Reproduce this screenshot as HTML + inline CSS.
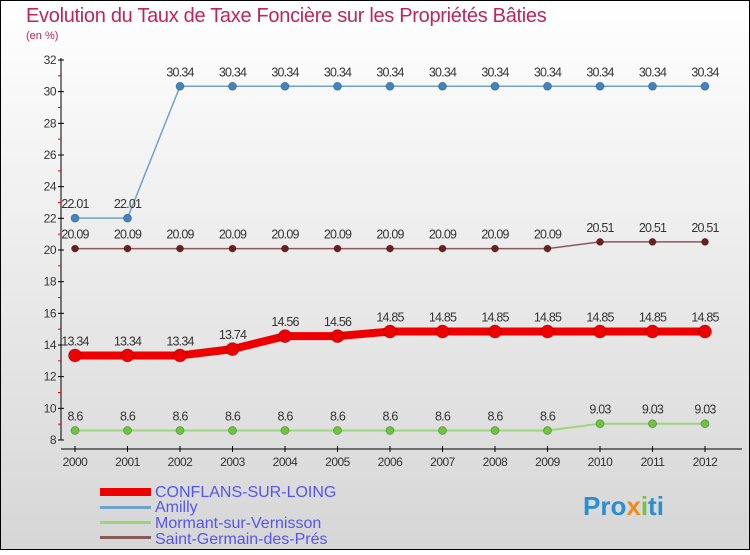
<!DOCTYPE html>
<html><head><meta charset="utf-8"><style>
html,body{margin:0;padding:0}
body{width:750px;height:550px;overflow:hidden;font-family:"Liberation Sans",sans-serif}
</style></head><body>
<svg id="chart" width="750" height="550" xmlns="http://www.w3.org/2000/svg" font-family="Liberation Sans, sans-serif">
<defs><linearGradient id="bg" x1="0" y1="0" x2="0" y2="1"><stop offset="0" stop-color="#ffffff"/><stop offset="1" stop-color="#d6d6d6"/></linearGradient></defs>
<rect x="0.5" y="0.5" width="749" height="549" fill="url(#bg)" stroke="#000"/>
<text x="26" y="22" font-size="20" fill="#c0245c" letter-spacing="-0.3">Evolution du Taux de Taxe Foncière sur les Propriétés Bâties</text>
<text x="26" y="39" font-size="11" fill="#c0245c">(en %)</text>
<g id="axes"></g><g id="series"></g>
<g>
<rect x="100" y="488" width="51" height="8" fill="#e00"/>
<text x="155" y="497" font-size="16" fill="#5555ee">CONFLANS-SUR-LOING</text>
<rect x="100" y="506" width="51" height="3" fill="#6fa3cc"/>
<text x="155" y="512" font-size="16" fill="#5555ee">Amilly</text>
<rect x="100" y="521" width="51" height="3" fill="#9bd67a"/>
<text x="155" y="528" font-size="16" fill="#5555ee">Mormant-sur-Vernisson</text>
<rect x="100" y="536" width="51" height="3" fill="#8a5a5a"/>
<text x="155" y="544" font-size="16" fill="#5555ee">Saint-Germain-des-Prés</text>
</g>
<text x="583" y="515" font-size="26" font-weight="bold" fill="#2a8fd0">Pro<tspan fill="#f08a1c">x</tspan><tspan fill="#7ac143">i</tspan>ti</text>
</svg>
<script>
const years=[2000,2001,2002,2003,2004,2005,2006,2007,2008,2009,2010,2011,2012];
const yTicks=[8,10,12,14,16,18,20,22,24,26,28,30,32];
const conflans=[13.34,13.34,13.34,13.74,14.56,14.56,14.85,14.85,14.85,14.85,14.85,14.85,14.85];
const amilly=[22.01,22.01,30.34,30.34,30.34,30.34,30.34,30.34,30.34,30.34,30.34,30.34,30.34];
const mormant=[8.6,8.6,8.6,8.6,8.6,8.6,8.6,8.6,8.6,8.6,9.03,9.03,9.03];
const saintGermain=[20.09,20.09,20.09,20.09,20.09,20.09,20.09,20.09,20.09,20.09,20.51,20.51,20.51];
const NS="http://www.w3.org/2000/svg";
const x=i=>75+i*52.5;
const y=v=>440-(v-8)*(380/24);
function mk(t,a,p){const e=document.createElementNS(NS,t);for(const k in a)e.setAttribute(k,a[k]);p.appendChild(e);return e;}
const ax=document.getElementById('axes');
let l=mk('line',{x1:61,y1:58,x2:61,y2:440,stroke:'#000'},ax);


l=mk('line',{x1:61,y1:449,x2:742,y2:449,stroke:'#000'},ax);


yTicks.forEach(v=>{
 mk('line',{x1:58,y1:y(v),x2:64,y2:y(v),stroke:'#000'},ax);
 mk('line',{x1:58,y1:y(v+1),x2:61,y2:y(v+1),stroke:v<32?'#e00':'none'},ax);
 const t=mk('text',{x:56,y:y(v)+4,'font-size':12,'text-anchor':'end',fill:'#333','letter-spacing':'-0.5'},ax);
 t.textContent=v;
 
 
});
years.forEach((yr,i)=>{
 mk('line',{x1:x(i),y1:446,x2:x(i),y2:452,stroke:'#000'},ax);
 const t=mk('text',{x:x(i),y:466,'font-size':12,'text-anchor':'middle',fill:'#333','letter-spacing':'-0.5'},ax);
 t.textContent=yr;
 
 
});
const sg=document.getElementById('series');
function series(name,vals,color,dot,w,r){
 const g=mk('g',{},sg);
 
 
 const p=mk('polyline',{points:vals.map((v,i)=>x(i)+','+y(v)).join(' '),fill:'none',stroke:color,'stroke-width':w,'stroke-linejoin':'round'},g);
 
 
 vals.forEach((v,i)=>{
  const c=mk('circle',{cx:x(i),cy:y(v),r:r,fill:dot,stroke:'rgba(0,0,0,0.25)','stroke-width':1},g);
  
  
  const t=mk('text',{x:x(i),y:y(v)-10,'font-size':12.5,'text-anchor':'middle',fill:'#333','letter-spacing':'-0.8'},g);
  t.textContent=String(v);
  
  
 });
}
series('amilly-series',amilly,'#6fa3cc','#3d86c3',1.5,4);
series('saint-germain-series',saintGermain,'#8a5a5a','#6b1f1f',1.5,3.5);
series('mormant-series',mormant,'#9bd67a','#6cc63a',2,4);
series('conflans-series',conflans,'#e00','#e00',8,6.5);
</script>
</body></html>
